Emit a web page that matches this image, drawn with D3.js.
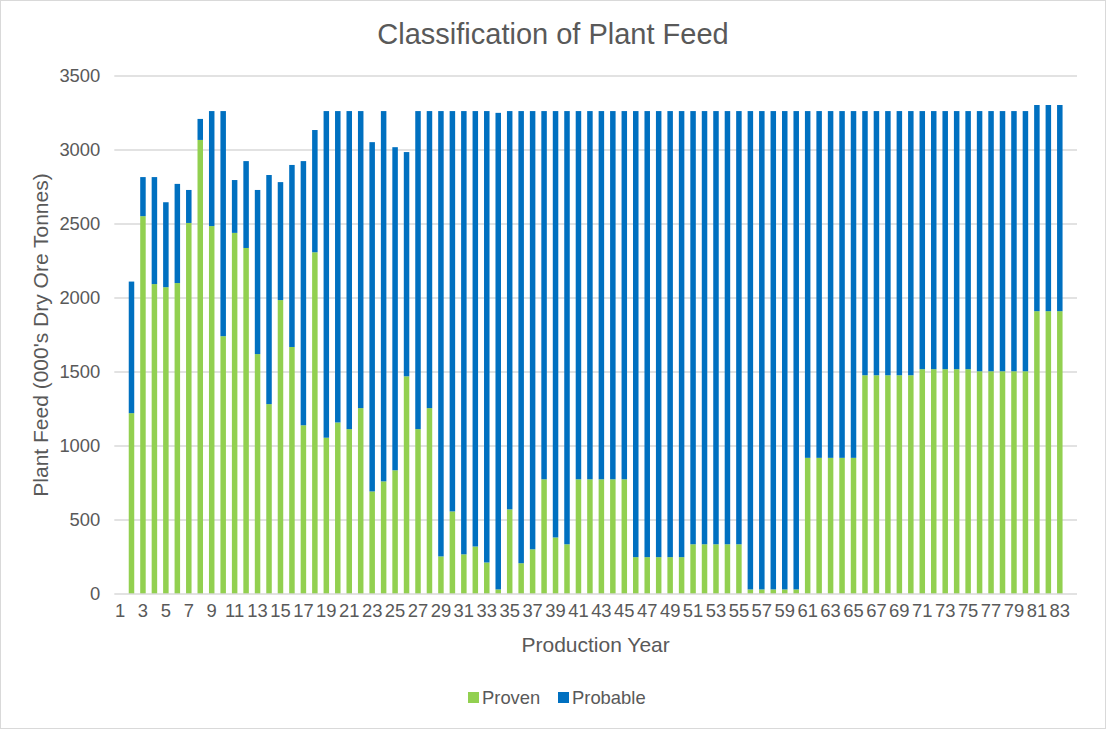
<!DOCTYPE html>
<html>
<head>
<meta charset="utf-8">
<script src="https://cdn.jsdelivr.net/npm/d3@7"></script>
<style>
  body { margin: 0; background: #fff; }
  svg { display: block; font-family: "Liberation Sans", Arial, sans-serif; }
</style>
</head>
<body>
<svg id="chart" width="1106" height="729"></svg>
<script>
'use strict';

// production years 1..84 (last slot is empty, as in the source sheet)
var years = d3.range(1, 85);

var proven = [
    0, 1222, 2553, 2094, 2073, 2101, 2507, 3068, 2486, 1742,
    2440, 2338, 1621, 1283, 1986, 1669, 1140, 2309, 1056, 1159,
    1114, 1256, 693, 761, 836, 1471, 1114, 1256, 254, 558,
    268, 321, 213, 31, 572, 208, 302, 775, 382, 336,
    775, 775, 775, 775, 775, 249, 249, 249, 249, 249,
    336, 336, 336, 336, 336, 31, 31, 31, 31, 31,
    920, 920, 920, 920, 920, 1478, 1478, 1478, 1478, 1478,
    1519, 1519, 1519, 1519, 1519, 1505, 1505, 1505, 1505, 1505,
    1911, 1911, 1911, 0
];

var probable = [
    0, 889, 264, 723, 574, 670, 223, 142, 777, 1521,
    357, 587, 1109, 1548, 797, 1230, 1785, 826, 2207, 2104,
    2149, 2007, 2360, 2502, 2183, 1515, 2149, 2007, 3009, 2705,
    2995, 2942, 3050, 3220, 2691, 3055, 2961, 2488, 2881, 2927,
    2488, 2488, 2488, 2488, 2488, 3014, 3014, 3014, 3014, 3014,
    2927, 2927, 2927, 2927, 2927, 3232, 3232, 3232, 3232, 3232,
    2343, 2343, 2343, 2343, 2343, 1785, 1785, 1785, 1785, 1785,
    1744, 1744, 1744, 1744, 1744, 1758, 1758, 1758, 1758, 1758,
    1393, 1393, 1393, 0
];

var series_names = ['Proven', 'Probable'],
    series_colors = ['#92D050', '#0070C0'],
    y_ticks = [0, 500, 1000, 1500, 2000, 2500, 3000, 3500];

var svg = d3.select('#chart'),
    W = 1106, H = 729,
    plot = { left: 114.3, right: 1077, top: 76, bottom: 594 },
    text_color = '#595959';

// outer border of the chart area
svg.append('rect')
    .attr('x', 0.5).attr('y', 0.5)
    .attr('width', W - 1).attr('height', H - 1)
    .attr('fill', '#fff')
    .attr('stroke', '#d9d9d9');

var table = years.map(function(y, i) {
    return { year: y, Proven: proven[i], Probable: probable[i] };
});

var stacked = d3.stack().keys(series_names)(table);

var x = d3.scaleBand()
    .domain(years)
    .range([plot.left, plot.right])
    .paddingInner(0.52)
    .paddingOuter(0.26);

var y = d3.scaleLinear()
    .domain([0, 3500])
    .range([plot.bottom, plot.top]);

// gridlines
svg.append('g')
    .selectAll('line')
    .data(y_ticks.slice(1))
    .enter().append('line')
    .attr('x1', plot.left).attr('x2', plot.right)
    .attr('y1', function(d) { return y(d); })
    .attr('y2', function(d) { return y(d); })
    .attr('stroke', '#d9d9d9')
    .attr('stroke-width', 1.3);

// bars
svg.append('g')
    .selectAll('g')
    .data(stacked)
    .enter().append('g')
    .attr('fill', function(d, i) { return series_colors[i]; })
    .selectAll('rect')
    .data(function(d) { return d; })
    .enter().append('rect')
    .attr('x', function(d) { return x(d.data.year); })
    .attr('width', x.bandwidth())
    .attr('y', function(d) { return y(d[1]); })
    .attr('height', function(d) { return y(d[0]) - y(d[1]); });

// x axis line
svg.append('line')
    .attr('x1', plot.left).attr('x2', plot.right)
    .attr('y1', y(0)).attr('y2', y(0))
    .attr('stroke', '#d9d9d9')
    .attr('stroke-width', 1.3);

// y axis (labels only)
var y_axis = svg.append('g')
    .attr('transform', 'translate(' + (plot.left - 14) + ',0)')
    .call(d3.axisLeft(y).tickValues(y_ticks).tickFormat(d3.format('d'))
        .tickSize(0).tickPadding(0));
y_axis.select('.domain').remove();
y_axis.selectAll('text')
    .attr('fill', text_color)
    .attr('font-size', '18.4px')
    .attr('font-family', '"Liberation Sans", Arial, sans-serif');

// x axis (every other year labelled)
var x_axis = svg.append('g')
    .attr('transform', 'translate(0,' + y(0) + ')')
    .call(d3.axisBottom(x)
        .tickValues(years.filter(function(d) { return d % 2 === 1; }))
        .tickSize(0).tickPadding(10));
x_axis.select('.domain').remove();
x_axis.selectAll('text')
    .attr('fill', text_color)
    .attr('font-size', '18.4px')
    .attr('font-family', '"Liberation Sans", Arial, sans-serif');

// title
svg.append('text')
    .attr('x', 553).attr('y', 44)
    .attr('text-anchor', 'middle')
    .attr('fill', text_color)
    .attr('font-size', '29px')
    .text('Classification of Plant Feed');

// axis titles
svg.append('text')
    .attr('x', (plot.left + plot.right) / 2).attr('y', 652)
    .attr('text-anchor', 'middle')
    .attr('fill', text_color)
    .attr('font-size', '21px')
    .text('Production Year');

svg.append('text')
    .attr('transform', 'translate(48,' + ((plot.top + plot.bottom) / 2) + ') rotate(-90)')
    .attr('text-anchor', 'middle')
    .attr('fill', text_color)
    .attr('font-size', '21px')
    .text("Plant Feed (000's Dry Ore Tonnes)");

// legend
var legend_x = [468, 558];
var legend = svg.append('g')
    .selectAll('g')
    .data(series_names)
    .enter().append('g')
    .attr('transform', function(d, i) { return 'translate(' + legend_x[i] + ',692)'; });

legend.append('rect')
    .attr('width', 11).attr('height', 11)
    .attr('fill', function(d, i) { return series_colors[i]; });

legend.append('text')
    .attr('x', 14).attr('y', 12)
    .attr('fill', text_color)
    .attr('font-size', '18.4px')
    .text(function(d) { return d; });
</script>
</body>
</html>
